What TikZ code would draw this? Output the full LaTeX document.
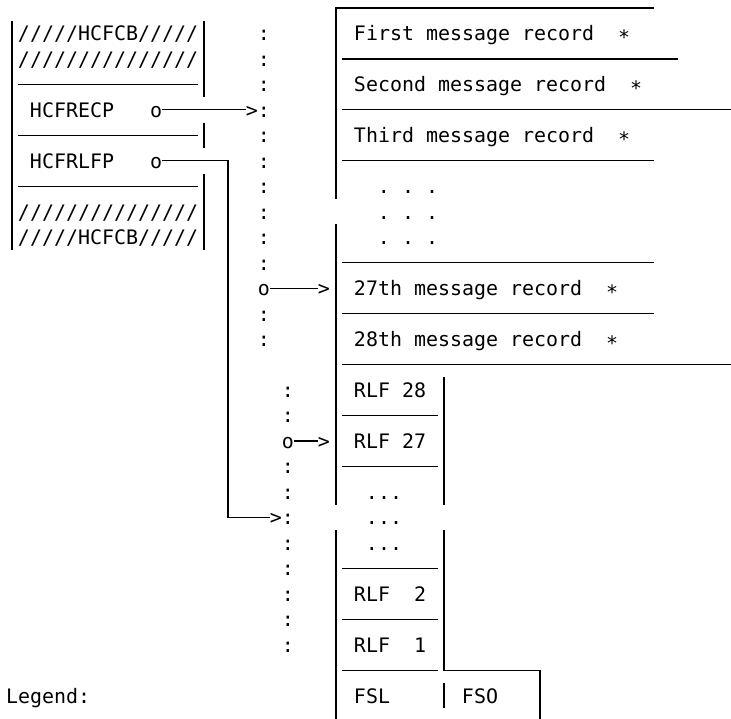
\documentclass[tikz,border=0pt]{standalone}
\usepackage{fontspec}
\newfontfamily\dvmono{DejaVu Sans Mono}
\tikzset{
  txt/.style={anchor=base west, inner sep=0pt, outer sep=0pt, yshift=-3.7pt,
    text height=7.4pt, text depth=0pt,
    font=\dvmono\fontsize{9.97pt}{12pt}\selectfont},
  ln/.style={line width=0.6pt, line cap=butt, black},
}
\newcommand\recstar{\raisebox{-2pt}{*}}
\begin{document}
\begin{tikzpicture}[x=6pt,y=-12.735pt]
\useasboundingbox (0,0) rectangle (60.917,28.229);
\clip (0,0) rectangle (60.917,28.229);
\fill[white] (0,0) rectangle (60.917,28.229);
\begin{scope}[shift={(1,0.314)}]
% ---------- left control block ----------
\node[txt] (hA) at (0.5,1) {/////HCFCB/////};
\node[txt] (hB) at (0.5,2) {///////////////};
\node[txt] (recp) at (1.5,4) {HCFRECP};
\node[txt] (oA) at (11.5,4) {o};
\node[txt] (rlfp) at (1.5,6) {HCFRLFP};
\node[txt] (oB) at (11.5,6) {o};
\node[txt] (hC) at (0.5,8) {///////////////};
\node[txt] (hD) at (0.5,9) {/////HCFCB/////};
\draw[ln] (0,0.5) -- (0,9.5);
\draw[ln] (16,0.5) -- (16,3.5);
\draw[ln] (16,4.5) -- (16,5.5);
\draw[ln] (16,6.5) -- (16,9.5);
\foreach \r in {3,5,7} \draw[ln] (0.5,\r) -- (15.5,\r);
% ---------- colon columns ----------
\foreach \r in {1,...,10,12,13} \node[txt] (cA\r) at (20.5,\r) {:};
\foreach \r in {15,16,18,19,...,25} \node[txt] (cB\r) at (22.5,\r) {:};
% ---------- pointers ----------
\node[txt] (gA) at (19.5,4) {>};
\node[txt] (gB) at (21.5,20) {>};
\node[txt] (oC) at (20.5,11) {o};
\node[txt] (gC) at (25.5,11) {>};
\node[txt] (oD) at (22.5,17) {o};
\node[txt] (gD) at (25.5,17) {>};
\draw[ln] (oA.east) -- (gA.west);
\draw[ln] (oB.east) -| (18,20) -- (gB.west);
\draw[ln] (oC.east) -- (gC.west);
\draw[ln] (oD.east) -- (gD.west);
% ---------- message records ----------
\node[txt] (m1) at (28.5,1) {First message record~~\recstar};
\node[txt] (m2) at (28.5,3) {Second message record~~\recstar};
\node[txt] (m3) at (28.5,5) {Third message record~~\recstar};
\node[txt] (d1) at (30.5,7) {.~.~.};
\node[txt] (d2) at (30.5,8) {.~.~.};
\node[txt] (d3) at (30.5,9) {.~.~.};
\node[txt] (m27) at (28.5,11) {27th message record~~\recstar};
\node[txt] (m28) at (28.5,13) {28th message record~~\recstar};
\draw[ln] (53.5,0) -- (27,0) -- (27,7.5);
\draw[ln] (27,8.5) -- (27,19.5);
\draw[ln] (27,20.5) -- (27,29);
\draw[ln] (27.5,2) -- (55.5,2);
\draw[ln] (27.5,4) -- (62,4);
\draw[ln] (27.5,6) -- (53.5,6);
\draw[ln] (27.5,10) -- (53.5,10);
\draw[ln] (27.5,12) -- (53.5,12);
\draw[ln] (27.5,14) -- (62,14);
% ---------- RLF entries ----------
\node[txt] (r28) at (28.5,15) {RLF~28};
\node[txt] (r27) at (28.5,17) {RLF~27};
\node[txt] (e1) at (29.5,19) {...};
\node[txt] (e2) at (29.5,20) {...};
\node[txt] (e3) at (29.5,21) {...};
\node[txt] (r2) at (28.5,23) {RLF~~2};
\node[txt] (r1) at (28.5,25) {RLF~~1};
\node[txt] (fsl) at (28.5,27) {FSL};
\node[txt] (fso) at (37.5,27) {FSO};
\draw[ln] (36,14.5) -- (36,19.5);
\draw[ln] (36,20.5) -- (36,26) -- (44,26) -- (44,29);
\draw[ln] (36,26.5) -- (36,27.5);
\foreach \r in {16,18,22,24,26} \draw[ln] (27.5,\r) -- (35.5,\r);
% ---------- legend ----------
\node[txt] (leg) at (-0.5,27) {Legend:};
\end{scope}
\end{tikzpicture}
\end{document}
